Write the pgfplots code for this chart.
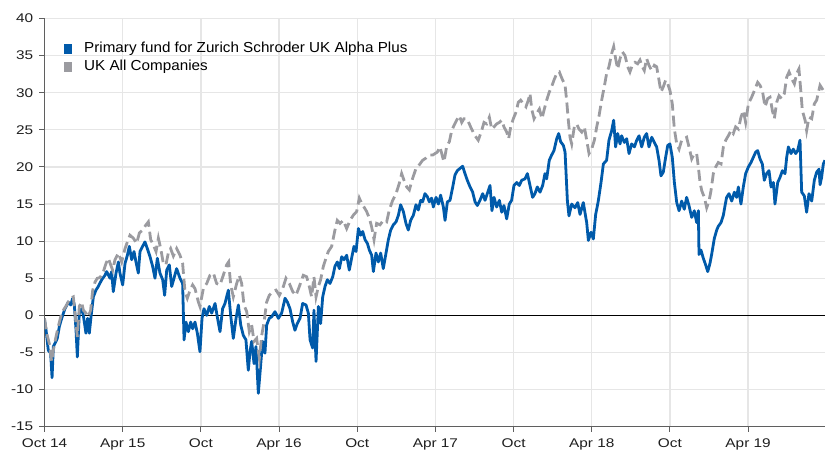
\documentclass[border=0pt]{standalone}
\usepackage{fontspec}
\setmainfont{Liberation Sans}
\newfontfamily\tickfont[FakeStretch=1.22]{Liberation Sans}
\newfontfamily\legfont[FakeStretch=1.05]{Liberation Sans}
\usepackage{pgfplots}
\usepackage{pgfplotstable}
\pgfplotsset{compat=1.18}
\definecolor{fundblue}{RGB}{0,90,170}
\definecolor{sectorgray}{RGB}{155,155,160}
\definecolor{gridgray}{RGB}{230,230,230}
\definecolor{axisgray}{RGB}{95,95,95}

\pgfplotstableread{
m v
0 -0.6
0.12 -2.0
0.29 -4.7
0.47 -5.1
0.58 -8.4
0.68 -4.2
0.88 -3.5
0.98 -3.1
1.14 -1.5
1.32 -0.4
1.57 0.9
1.83 1.8
2.01 1.4
2.16 2.3
2.29 1.4
2.42 -2.0
2.52 -5.6
2.67 0.3
2.85 0.9
2.98 0.0
3.18 -2.4
3.31 -0.4
3.44 -2.4
3.57 -0.2
3.75 2.5
3.95 3.4
4.13 3.9
4.39 4.8
4.64 5.4
4.77 5.9
5.03 5.0
5.15 5.9
5.28 3.2
5.49 5.7
5.67 7.2
5.79 5.7
6.00 4.1
6.18 7.0
6.36 8.1
6.51 9.3
6.69 7.5
6.87 8.6
7.02 7.2
7.20 5.7
7.33 8.6
7.53 9.3
7.71 9.9
7.89 9.0
8.10 7.9
8.30 6.6
8.48 5.0
8.66 7.7
8.86 5.7
9.07 4.8
9.22 2.7
9.38 6.1
9.58 6.8
9.76 3.9
9.94 5.0
10.14 6.3
10.40 5.0
10.60 4.3
10.71 -3.3
10.86 -0.9
11.04 -2.2
11.22 -0.9
11.37 -1.8
11.55 -0.9
11.73 -2.4
11.93 -4.9
12.09 -0.4
12.24 0.9
12.45 0.0
12.65 1.2
12.83 0.3
13.09 1.6
13.26 -0.2
13.47 -2.2
13.67 0.9
13.85 1.6
14.11 3.4
14.29 0.0
14.49 -3.1
14.70 -0.4
14.88 1.4
15.06 -1.3
15.26 -2.7
15.46 -3.3
15.64 -7.4
15.77 -4.9
15.90 -3.5
16.08 -6.5
16.23 -4.2
16.41 -10.5
16.59 -6.7
16.74 -3.5
16.92 -5.1
17.05 -1.3
17.25 -0.4
17.43 -0.2
17.69 0.5
17.95 -0.4
18.20 0.3
18.46 2.3
18.64 1.8
18.84 0.9
19.05 -0.9
19.22 -2.0
19.40 -1.1
19.61 -0.4
19.81 1.6
20.07 1.4
20.25 0.3
20.38 -3.3
20.58 -4.4
20.68 0.7
20.84 -6.2
21.02 1.2
21.19 -1.1
21.35 2.5
21.53 3.9
21.71 4.8
21.91 4.3
22.12 5.2
22.29 6.6
22.47 7.2
22.63 6.3
22.81 7.9
22.99 7.5
23.19 8.1
23.39 6.1
23.57 7.7
23.75 9.3
23.91 8.6
24.09 11.7
24.26 10.8
24.42 11.3
24.60 10.2
24.78 9.7
24.93 8.8
25.11 8.1
25.24 5.9
25.44 8.4
25.62 7.2
25.80 8.4
26.00 6.3
26.21 8.4
26.39 10.2
26.57 11.5
26.77 12.2
26.98 12.6
27.16 13.5
27.33 14.9
27.54 14.0
27.74 12.4
27.92 11.5
28.10 12.8
28.31 13.5
28.51 14.9
28.69 14.2
28.87 15.5
29.02 15.3
29.20 16.4
29.38 16.0
29.53 15.3
29.71 15.8
29.84 14.6
30.05 15.9
30.23 15.0
30.40 16.2
30.61 14.6
30.74 12.8
30.92 15.3
31.12 15.5
31.33 17.3
31.50 18.9
31.68 19.5
31.89 19.8
32.09 20.1
32.27 19.1
32.45 18.2
32.66 17.3
32.86 16.6
33.04 15.3
33.22 14.8
33.42 15.5
33.63 16.4
33.81 15.5
33.98 16.4
34.19 17.5
34.34 14.1
34.50 15.9
34.70 14.6
34.91 15.5
35.09 13.9
35.26 14.8
35.47 13.0
35.67 15.0
35.85 15.5
36.03 17.5
36.24 17.9
36.44 17.5
36.62 18.2
36.88 18.4
37.06 19.1
37.26 17.5
37.46 15.9
37.64 16.4
37.82 17.3
38.03 16.6
38.23 17.5
38.41 19.1
38.54 18.4
38.74 20.9
38.92 21.6
39.10 22.2
39.31 23.8
39.46 24.5
39.61 23.4
39.82 22.9
39.95 22.0
40.13 15.4
40.25 13.4
40.46 15.0
40.71 14.5
40.92 15.2
41.10 13.6
41.35 15.2
41.61 12.5
41.74 10.1
41.94 11.2
42.12 10.3
42.30 13.6
42.50 15.4
42.71 17.9
42.89 20.4
43.14 20.9
43.32 23.6
43.53 24.9
43.68 26.3
43.83 22.7
43.99 24.5
44.17 23.1
44.29 24.2
44.50 23.3
44.68 23.8
44.86 21.8
45.06 23.1
45.27 22.7
45.45 23.6
45.63 24.2
45.83 22.7
46.03 24.0
46.21 24.5
46.39 22.7
46.60 24.0
46.80 23.3
46.98 22.7
47.16 20.9
47.31 18.8
47.49 19.3
47.67 21.3
47.83 22.9
48.00 23.1
48.18 21.3
48.34 17.9
48.52 15.2
48.70 14.1
48.90 15.4
49.10 14.3
49.28 15.9
49.46 14.8
49.67 13.2
49.87 14.1
50.05 12.5
50.18 14.1
50.23 8.2
50.38 8.8
50.56 7.7
50.74 6.8
50.90 5.9
51.07 7.0
51.20 8.2
51.41 10.4
51.59 11.5
51.71 12.0
51.92 12.5
52.10 13.5
52.25 15.0
52.35 15.9
52.53 16.4
52.74 15.4
52.94 16.6
53.12 15.9
53.25 17.3
53.45 15.0
53.63 17.3
53.81 19.1
54.02 20.0
54.22 20.6
54.40 21.3
54.58 22.0
54.73 22.2
54.91 21.1
55.09 20.4
55.24 18.2
55.42 19.1
55.60 19.5
55.76 17.3
55.94 17.9
56.06 15.0
56.27 17.9
56.45 18.6
56.63 19.5
56.83 19.1
56.96 21.3
57.09 22.7
57.29 21.8
57.47 22.4
57.65 21.8
57.80 22.2
57.98 23.6
58.11 16.6
58.31 16.1
58.49 13.9
58.67 16.4
58.88 15.4
59.08 18.2
59.26 19.3
59.44 19.7
59.52 17.6
59.64 18.6
59.77 20.4
59.90 20.9
}\fund

\pgfplotstableread{
m v
0 -0.4
0.17 -2.4
0.37 -3.8
0.55 -6.2
0.68 -4.7
0.88 -2.9
1.06 -1.5
1.24 -0.2
1.45 0.7
1.70 1.4
1.96 2.3
2.21 2.5
2.42 -1.1
2.52 -2.9
2.67 1.2
2.85 1.8
2.98 0.7
3.18 0.3
3.36 -0.2
3.54 0.7
3.70 3.4
3.88 4.5
4.05 5.0
4.26 5.1
4.52 5.9
4.72 7.0
4.90 7.7
5.08 6.8
5.23 6.1
5.41 7.5
5.67 8.4
5.92 7.2
6.18 9.0
6.36 9.9
6.56 10.8
6.82 10.4
7.07 9.7
7.28 11.1
7.53 11.5
7.79 12.2
7.97 12.6
8.15 10.2
8.35 9.5
8.56 8.6
8.74 10.4
8.92 9.0
9.12 7.0
9.32 6.8
9.50 8.4
9.68 9.0
9.89 8.0
10.14 9.0
10.40 8.1
10.60 7.0
10.78 3.2
10.96 2.3
11.17 3.4
11.37 4.1
11.55 3.6
11.81 1.8
11.93 1.2
12.19 3.6
12.45 4.3
12.70 5.4
12.96 5.7
13.21 4.3
13.47 4.1
13.72 5.4
13.98 6.8
14.13 7.2
14.29 4.1
14.49 2.5
14.75 4.3
14.95 5.4
15.13 4.3
15.31 1.4
15.52 0.5
15.72 -2.2
15.90 -1.3
16.08 -3.5
16.28 -3.1
16.49 -5.8
16.67 -2.7
16.85 -0.9
17.05 1.8
17.25 2.7
17.51 3.2
17.77 3.4
18.02 2.7
18.28 3.6
18.53 5.0
18.79 4.3
19.05 3.2
19.30 2.7
19.56 3.9
19.86 5.4
20.12 5.2
20.32 3.9
20.50 2.5
20.68 5.2
20.84 2.5
21.02 3.9
21.19 4.8
21.40 6.6
21.60 7.7
21.78 8.6
22.04 9.3
22.29 11.5
22.47 12.8
22.68 12.4
22.93 12.8
23.19 11.7
23.45 12.8
23.70 13.5
23.96 14.0
24.16 15.8
24.34 15.1
24.52 14.6
24.72 14.0
24.93 13.1
25.11 11.9
25.29 10.2
25.49 12.4
25.75 12.2
26.00 12.8
26.26 12.6
26.46 14.2
26.72 15.5
26.98 16.4
27.23 17.8
27.41 19.1
27.59 18.2
27.80 17.3
28.00 16.9
28.26 18.5
28.51 19.8
28.77 20.3
29.02 20.9
29.28 21.2
29.53 21.6
29.79 21.6
29.97 21.8
30.15 22.0
30.35 22.7
30.56 21.3
30.66 20.7
30.86 22.7
31.07 23.4
31.25 24.9
31.43 25.6
31.63 26.3
31.84 26.9
32.02 26.0
32.19 26.5
32.40 26.5
32.60 25.8
32.78 25.1
33.04 24.2
33.29 23.6
33.55 24.9
33.73 26.0
33.93 25.8
34.14 26.7
34.32 25.1
34.50 25.4
34.70 25.8
34.91 26.0
35.09 26.3
35.26 25.4
35.47 24.7
35.62 23.8
35.78 25.4
35.98 26.5
36.19 27.4
36.36 28.7
36.54 29.0
36.75 28.5
36.95 28.1
37.13 29.0
37.26 29.9
37.39 27.8
37.57 26.5
37.77 27.2
37.98 27.8
38.18 26.5
38.33 27.6
38.54 29.0
38.74 30.1
38.92 30.8
39.10 31.7
39.31 32.6
39.51 32.8
39.69 32.0
39.95 31.0
40.07 29.0
40.20 26.3
40.33 24.0
40.46 23.1
40.66 25.4
40.84 25.8
41.02 25.1
41.23 24.7
41.43 25.4
41.61 23.6
41.79 21.8
41.99 22.4
42.20 23.6
42.38 25.4
42.56 26.9
42.76 29.0
42.96 30.8
43.14 32.6
43.32 33.5
43.53 35.3
43.68 36.2
43.83 34.6
43.99 33.2
44.17 34.6
44.35 35.5
44.55 35.0
44.76 33.5
44.93 32.8
45.11 33.7
45.32 34.1
45.52 33.9
45.70 34.4
45.88 33.5
46.03 33.0
46.21 34.6
46.39 33.7
46.60 33.0
46.80 33.7
46.98 33.5
47.16 31.7
47.31 30.1
47.49 30.8
47.67 31.7
47.83 31.2
48.00 30.3
48.18 28.5
48.34 25.1
48.52 23.1
48.70 22.4
48.90 23.6
49.10 23.8
49.28 24.0
49.46 22.7
49.67 21.1
49.87 21.8
50.05 21.8
50.18 20.0
50.31 17.9
50.44 16.8
50.64 15.9
50.82 14.5
51.00 15.4
51.15 16.8
51.33 19.1
51.51 20.0
51.71 20.6
51.92 20.4
52.10 22.7
52.28 23.6
52.48 24.2
52.69 24.9
52.86 24.5
53.04 25.4
53.25 25.1
53.45 26.7
53.63 27.6
53.81 26.0
54.02 28.5
54.27 29.4
54.53 30.5
54.73 31.4
54.91 31.0
55.09 30.3
55.30 28.1
55.50 29.2
55.68 29.4
55.86 27.6
56.01 26.5
56.19 28.7
56.37 29.6
56.57 29.2
56.78 29.9
56.96 32.1
57.14 32.8
57.34 31.9
57.55 31.2
57.73 32.6
57.90 33.2
58.06 29.9
58.16 27.6
58.37 26.3
58.49 24.9
58.67 26.7
58.88 26.5
59.08 28.5
59.26 29.0
59.52 31.0
59.70 30.5
59.90 29.9
}\sector

\begin{document}
\begin{tikzpicture}[x=1pt,y=1pt]
\useasboundingbox (0,0) rectangle (825,450);
\begin{axis}[
  at={(44.5pt,23.3pt)}, anchor=south west,
  scale only axis, width=780.5pt, height=408.2pt,
  xmin=0, xmax=59.9, ymin=-15, ymax=40,
  axis x line*=bottom, axis y line*=left,
  axis line style={axisgray, line width=1.2pt},
  xtick={0,6,12,18,24,30,36,42,48,54},
  xticklabels={Oct 14,Apr 15,Oct,Apr 16,Oct,Apr 17,Oct,Apr 18,Oct,Apr 19},
  ytick={-15,-10,-5,0,5,10,15,20,25,30,35,40},
  yticklabels={-15,-10,-5,0,5,10,15,20,25,30,35,40},
  tick align=outside, major tick length=5pt,
  tick style={axisgray, line width=1pt},
  grid=major, major grid style={gridgray, line width=1.3pt},
  ticklabel style={font=\tickfont\fontsize{12.6}{14}\selectfont, text=black!88},
  xticklabel style={inner sep=0pt, yshift=-7pt},
  yticklabel style={inner sep=0pt, xshift=-6pt},
  legend style={at={(0.025,0.945)}, anchor=north west, draw=none, fill=none,
    inner sep=0pt, font=\legfont\fontsize{14.5}{17}\selectfont,
    nodes={inner sep=0pt, text height=11pt, text depth=3pt},
    row sep=4pt,
    /tikz/every odd column/.append style={column sep=12pt}},
  legend cell align=left,
  legend image code/.code={\fill[#1, draw=none] (0pt,-5.5pt) rectangle (8pt,4.5pt);},
]
\addplot[black, line width=1pt, forget plot] coordinates {(0,0) (59.9,0)};
\addplot[fundblue, line width=2.8pt, line join=round] table[x=m, y=v] {\fund};
\addlegendentry{Primary fund for Zurich Schroder UK Alpha Plus}
\addplot[sectorgray, line width=2.8pt, dash pattern=on 11pt off 5pt] table[x=m, y=v] {\sector};
\addlegendentry{UK All Companies}
\end{axis}
\end{tikzpicture}
\end{document}
